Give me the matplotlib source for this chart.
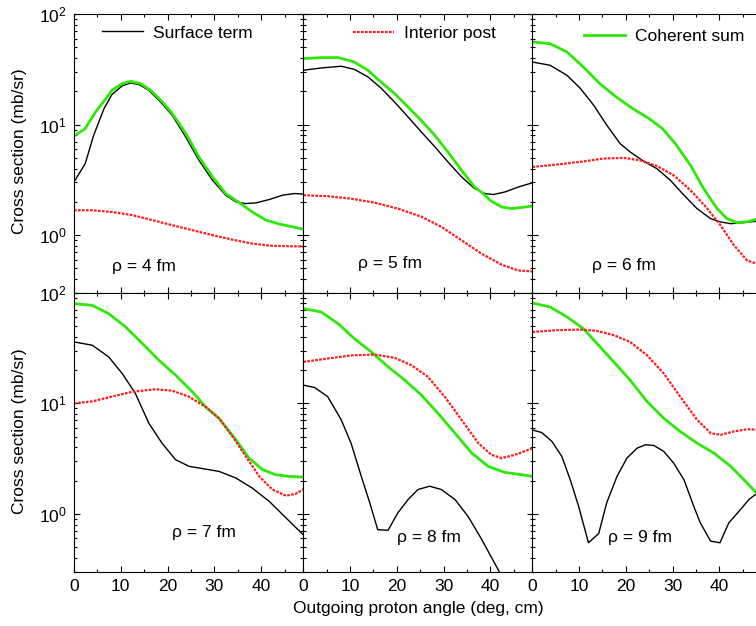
import matplotlib
matplotlib.use('Agg')
import matplotlib.pyplot as plt
from matplotlib.ticker import LogLocator, MultipleLocator, NullFormatter

plt.rcParams['font.family'] = ['Liberation Sans', 'DejaVu Sans']
plt.rcParams['font.size'] = 12.5
plt.rcParams['axes.linewidth'] = 0.8

# --- data (angle in deg, cross section in mb/sr) ---
# rho = 4 fm
surf4_x = [0, 2.4, 4.2, 6.4, 8.1, 10.3, 12.1, 13.9, 16, 18.5, 21, 23.9, 26.7, 29.6, 32.4, 34.6,
           36.7, 38.9, 41.7, 44.6, 47.1, 49.1]
surf4_y = [3.03, 4.44, 8.0, 13.9, 18.7, 22.4, 23.8, 23.0, 20.4, 16.0, 12.1, 7.7, 4.76, 3.14, 2.30, 2.0,
           1.93, 1.96, 2.10, 2.30, 2.38, 2.35]
int4_x = [0, 3.9, 8.1, 12.4, 16.7, 21, 25.3, 29.6, 33.9, 38.1, 42.4, 49.1]
int4_y = [1.68, 1.68, 1.62, 1.52, 1.37, 1.23, 1.11, 1.0, 0.91, 0.84, 0.80, 0.79]
coh4_x = [0, 2.3, 4.6, 6.7, 8.1, 10.3, 12.1, 14.2, 16.4, 18.9, 21, 23.9, 26.7, 29.6, 32.4, 35.6,
          38.1, 41, 43.9, 46.7, 49.1]
coh4_y = [7.9, 9.1, 13.0, 16.9, 20.4, 23.5, 24.6, 23.5, 20.4, 16.0, 12.6, 8.3, 5.1, 3.37, 2.38, 1.93,
          1.62, 1.37, 1.26, 1.19, 1.13]

# rho = 5 fm
surf5_x = [0, 3.8, 8.1, 10.9, 13.8, 16.6, 19.5, 22.4, 25.2, 28.1, 30.9, 33.8, 36.6, 38.8, 40.6,
           43.1, 46, 49.1]
surf5_y = [31.0, 32.5, 33.7, 31.6, 27.0, 21.4, 16.0, 11.7, 8.6, 6.3, 4.6, 3.37, 2.64, 2.38, 2.33,
           2.46, 2.73, 2.99]
int5_x = [0, 5.2, 10.2, 15.2, 20.2, 25.2, 29.5, 33.8, 38.1, 42.4, 45.9, 49.1]
int5_y = [2.30, 2.25, 2.14, 1.97, 1.74, 1.47, 1.19, 0.90, 0.68, 0.54, 0.48, 0.47]
coh5_x = [0, 3.8, 7.4, 10.9, 13.8, 16.6, 19.5, 22.4, 25.2, 28.1, 30.9, 33.8, 36.6, 38.4, 40.2,
          42.4, 44.5, 46.7, 49.1]
coh5_y = [39.5, 40.3, 40.4, 36.8, 31.0, 24.3, 19.1, 14.4, 10.9, 8.0, 5.66, 3.87, 2.73, 2.38, 2.03,
          1.80, 1.74, 1.78, 1.84]

# rho = 6 fm
surf6_x = [0, 3.8, 7.4, 10.2, 13.1, 15.9, 18.8, 20.9, 23.8, 26.6, 29.5, 32.4, 35.2, 38.1, 40.2,
           42.4, 45.2, 48.1, 49.1]
surf6_y = [36.8, 34.4, 27.9, 21.4, 15.0, 9.9, 6.7, 5.66, 4.66, 4.0, 3.14, 2.30, 1.74, 1.41, 1.32,
           1.27, 1.30, 1.34, 1.35]
int6_x = [0, 5.2, 10.2, 15.2, 19.5, 23, 26.6, 30.2, 33.8, 37.4, 40.2, 43.1, 45.9, 48.1, 49.1]
int6_y = [4.14, 4.35, 4.60, 4.93, 5.0, 4.76, 4.23, 3.48, 2.55, 1.74, 1.23, 0.81, 0.59, 0.55, 0.54]
coh6_x = [0, 3.8, 7.4, 10.9, 14.4, 17.9, 21.4, 25, 27.8, 30.6, 33.8, 36.6, 39.5, 41.6, 43.7,
          45.9, 48.1, 49.1]
coh6_y = [55.9, 53.9, 45.4, 33.2, 23.5, 17.8, 14.0, 11.3, 9.2, 6.7, 4.29, 2.64, 1.74, 1.41, 1.30,
          1.32, 1.40, 1.43]

# rho = 7 fm
surf7_x = [0, 3.9, 7.4, 10.3, 13.1, 16, 18.8, 21.7, 24.6, 28.1, 31, 34.6, 38.1, 41.7, 45.3, 49.1]
surf7_y = [35.9, 33.5, 26.3, 18.6, 12.3, 6.6, 4.36, 3.09, 2.69, 2.54, 2.42, 2.11, 1.71, 1.30, 0.92, 0.64]
int7_x = [0, 3.9, 8.1, 12.4, 17.4, 21, 24.5, 28.1, 31, 33.9, 36.7, 39.6, 42.4, 45.3, 47.4, 49.1]
int7_y = [10.0, 10.4, 11.5, 12.7, 13.4, 13.0, 11.5, 9.3, 7.3, 5.0, 3.31, 2.18, 1.66, 1.46, 1.52, 1.68]
coh7_x = [0, 3.9, 7.4, 11, 14.6, 18.1, 21.7, 25.3, 28.1, 31, 34.6, 37.4, 40.3, 43.1, 46, 49.1]
coh7_y = [79.6, 76.9, 64.7, 49.1, 34.8, 24.6, 18.0, 12.7, 9.3, 7.3, 4.67, 3.19, 2.51, 2.26, 2.18, 2.15]

# rho = 8 fm
surf8_x = [0, 2.4, 5.2, 8.1, 10.2, 12.4, 14.2, 15.9, 18.1, 20.2, 22.4, 24.5, 27, 29.5, 32.4,
           35.2, 38.1, 41.6, 44, 49]
surf8_y = [14.6, 13.9, 11.5, 7.1, 4.36, 2.18, 1.26, 0.72, 0.71, 1.02, 1.35, 1.66, 1.78, 1.66, 1.35,
           0.95, 0.59, 0.315, 0.2, 0.1]
int8_x = [0, 5.2, 10.2, 15.2, 19.5, 23.1, 26.6, 30.2, 33.8, 37.4, 40.2, 42.4, 45.2, 49.1]
int8_y = [23.7, 25.4, 27.1, 27.6, 25.8, 22.1, 17.4, 11.5, 7.1, 4.36, 3.42, 3.19, 3.42, 3.93]
coh8_x = [0, 3.8, 7.4, 10.9, 14.5, 18.1, 21.7, 25.2, 28.8, 32.4, 36, 39.5, 43.1, 46.7, 49.1]
coh8_y = [71.8, 67.0, 52.6, 38.5, 29.2, 21.4, 16.2, 11.9, 8.1, 5.37, 3.55, 2.69, 2.37, 2.26, 2.18]

# rho = 9 fm
surf9_x = [0, 2, 4.2, 6.3, 8.1, 9.9, 12, 14.2, 15.9, 18.1, 20.2, 22.4, 24.2, 26, 28.1, 30.2,
           32.4, 34.5, 35.9, 38.1, 40.1, 42, 44.2, 46.3, 47.9, 49.1]
surf9_y = [5.75, 5.44, 4.52, 3.31, 2.04, 1.17, 0.548, 0.665, 1.26, 2.18, 3.19, 3.93, 4.22, 4.15, 3.67, 2.88,
           2.04, 1.17, 0.83, 0.567, 0.548, 0.83, 1.06, 1.35, 1.52, 1.6]
int9_x = [0, 5.2, 10.2, 13.8, 17.4, 20.9, 24.5, 28.1, 31.6, 35.2, 38.1, 40.2, 43.1, 45.9, 49.1]
int9_y = [44.2, 45.8, 46.4, 45.2, 41.3, 35.9, 27.2, 18.6, 11.5, 7.1, 5.37, 5.19, 5.56, 5.83, 5.75]
coh9_x = [0, 3.8, 7.4, 10.9, 13.8, 17.4, 20.9, 24.5, 28.1, 31.6, 35.2, 38.8, 42.4, 45.2, 47.9, 49.1]
coh9_y = [80.7, 74.3, 60.4, 47.4, 34.8, 23.7, 16.2, 10.4, 7.3, 5.56, 4.36, 3.55, 2.69, 2.04, 1.55, 1.4]

rho_labels = ['ρ = 4 fm', 'ρ = 5 fm', 'ρ = 6 fm', 'ρ = 7 fm', 'ρ = 8 fm', 'ρ = 9 fm']
legend_names = ['Surface term', 'Interior post', 'Coherent sum']

panels = [
    (surf4_x, surf4_y, int4_x, int4_y, coh4_x, coh4_y),
    (surf5_x, surf5_y, int5_x, int5_y, coh5_x, coh5_y),
    (surf6_x, surf6_y, int6_x, int6_y, coh6_x, coh6_y),
    (surf7_x, surf7_y, int7_x, int7_y, coh7_x, coh7_y),
    (surf8_x, surf8_y, int8_x, int8_y, coh8_x, coh8_y),
    (surf9_x, surf9_y, int9_x, int9_y, coh9_x, coh9_y),
]

# layout in pixels of the original (third column runs past the right edge)
W, H = 756, 626
lefts = [74, 303.3, 532.3]
tops = [14, 292.7]
pw, ph = 229.3, 279

rho_pos = [(0.307, 0.096), (0.376, 0.107), (0.40, 0.099),
           (0.565, 0.139), (0.548, 0.121), (0.47, 0.124)]
leg_pos = [(0.121, 0.932), (0.217, 0.931), (0.2255, 0.919)]

fig = plt.figure(figsize=(W / 100, H / 100), dpi=100)

for i, (sx, sy, ix, iy, cx, cy) in enumerate(panels):
    row, col = divmod(i, 3)
    ax = fig.add_axes([lefts[col] / W, 1 - (tops[row] + ph) / H, pw / W, ph / H])
    ax.set_yscale('log')
    hs, = ax.plot(sx, sy, color='black', lw=1.0)
    hc, = ax.plot(cx, cy, color='#2ee80a', lw=2.0)
    hi, = ax.plot(ix, iy, color='#ff1a1a', lw=1.6, linestyle=(0, (1.2, 0.6)))
    ax.set_xlim(0, 49)
    ax.set_ylim(0.3, 100)
    ax.xaxis.set_major_locator(MultipleLocator(10))
    ax.xaxis.set_minor_locator(MultipleLocator(5))
    ax.yaxis.set_major_locator(LogLocator(base=10))
    ax.yaxis.set_minor_locator(LogLocator(base=10, subs=range(2, 10)))
    ax.yaxis.set_minor_formatter(NullFormatter())
    ax.tick_params(which='both', direction='in', top=True, right=True, width=0.8, pad=5)
    ax.tick_params(which='major', length=4.3)
    ax.tick_params(which='minor', length=2.2)
    if col > 0:
        ax.tick_params(labelleft=False)
    if row == 0:
        ax.tick_params(labelbottom=False)
        handle = [hs, hi, hc][col]
        ax.legend([handle], [legend_names[col]], loc='center left',
                  bbox_to_anchor=leg_pos[col], frameon=False, borderpad=0,
                  borderaxespad=0, handlelength=2.37, handletextpad=0.58)
    ax.text(rho_pos[i][0], rho_pos[i][1], rho_labels[i], transform=ax.transAxes,
            ha='center', va='center')

fig.text(20 / W, 1 - 151 / H, 'Cross section (mb/sr)', rotation=90, ha='center', va='center')
fig.text(20 / W, 1 - 431.5 / H, 'Cross section (mb/sr)', rotation=90, ha='center', va='center')
fig.text(418 / W, 1 - 608 / H, 'Outgoing proton angle (deg, cm)', ha='center', va='center')

fig.savefig('out.png', dpi=100)
